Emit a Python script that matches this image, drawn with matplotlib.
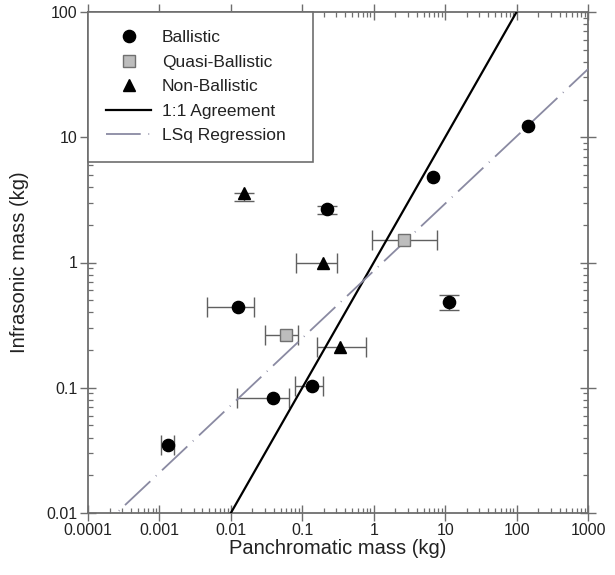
import numpy as np
import matplotlib
matplotlib.use("Agg")
import matplotlib.pyplot as plt
from matplotlib.lines import Line2D
from matplotlib.ticker import FixedLocator, FuncFormatter, LogLocator, NullFormatter

plt.rcParams['font.family'] = ['Liberation Sans', 'DejaVu Sans']
plt.rcParams['lines.scale_dashes'] = False

# ---- data ----
ball_x = [0.0013, 0.0126, 0.039, 0.137, 0.222, 6.8, 11.3, 145]
ball_y = [0.035, 0.44, 0.083, 0.104, 2.65, 4.8, 0.48, 12.2]
ball_xlo = [0.00105, 0.0046, 0.0122, 0.079, 0.222, 6.8, 11.3, 145]
ball_xhi = [0.0016, 0.021, 0.065, 0.195, 0.222, 6.8, 11.3, 145]
ball_ylo = [0.035, 0.44, 0.083, 0.104, 2.45, 4.8, 0.42, 12.2]
ball_yhi = [0.035, 0.44, 0.083, 0.104, 2.8, 4.8, 0.55, 12.2]

quasi_x = [0.059, 2.66]
quasi_y = [0.265, 1.5]
quasi_xlo = [0.030, 0.95]
quasi_xhi = [0.087, 7.7]

non_x = [0.0153, 0.195, 0.337]
non_y = [3.56, 1.0, 0.213]
non_xlo = [0.0153, 0.082, 0.161]
non_xhi = [0.0153, 0.306, 0.78]
non_ylo = [3.1, 1.0, 0.213]
non_yhi = [3.56, 1.0, 0.213]

reg_slope = 0.537
reg_log_intercept = -0.067

x_ticks = [0.0001, 0.001, 0.01, 0.1, 1, 10, 100, 1000]
y_ticks = [0.01, 0.1, 1, 10, 100]

fig = plt.figure(figsize=(6.15, 5.75), dpi=100)
ax = fig.add_axes([88/615, 1-513/575, 500/615, 501/575])
ax.set_xscale('log')
ax.set_yscale('log')

ecol = '#606060'
ekw = dict(fmt='none', ecolor=ecol, elinewidth=1.0, capsize=7, capthick=1.0, zorder=2)


def draw_err(x, y, xlo, xhi, ylo=None, yhi=None):
    x = np.array(x, float); y = np.array(y, float)
    xlo = np.array(xlo, float); xhi = np.array(xhi, float)
    mx = xhi > xlo
    if mx.any():
        ax.errorbar(x[mx], y[mx], xerr=np.vstack([x[mx] - xlo[mx], xhi[mx] - x[mx]]), **ekw)
    if ylo is not None:
        ylo = np.array(ylo, float); yhi = np.array(yhi, float)
        my = yhi > ylo
        if my.any():
            ax.errorbar(x[my], y[my], yerr=np.vstack([y[my] - ylo[my], yhi[my] - y[my]]), **ekw)


draw_err(ball_x, ball_y, ball_xlo, ball_xhi, ball_ylo, ball_yhi)
draw_err(quasi_x, quasi_y, quasi_xlo, quasi_xhi)
draw_err(non_x, non_y, non_xlo, non_xhi, non_ylo, non_yhi)

reg_col = '#8a8aa2'
reg_dash = (25, 5.5, 0.6, 5.5)
xx = np.logspace(-4, 3, 200)
ax.plot(xx, xx, color='black', lw=1.6, zorder=3)
ax.plot(xx, 10**(reg_log_intercept) * xx**reg_slope, color=reg_col, lw=1.3,
        dashes=reg_dash, zorder=3)

ax.plot(ball_x, ball_y, 'o', color='black', ms=8.8, zorder=4)
ax.plot(quasi_x, quasi_y, 's', mfc='#bdbdbd', mec='#707070', mew=1, ms=8, zorder=4)
ax.plot(non_x, non_y, '^', color='black', ms=8.8, zorder=4)

ax.set_xlim(1e-4, 1e3)
ax.set_ylim(1e-2, 1e2)

ax.xaxis.set_major_locator(FixedLocator(x_ticks))
ax.yaxis.set_major_locator(FixedLocator(y_ticks))
fmt = FuncFormatter(lambda v, p: '%g' % v)
ax.xaxis.set_major_formatter(fmt)
ax.yaxis.set_major_formatter(fmt)
ax.xaxis.set_minor_locator(LogLocator(base=10, subs=np.arange(2, 10), numticks=20))
ax.yaxis.set_minor_locator(LogLocator(base=10, subs=np.arange(2, 10), numticks=20))
ax.xaxis.set_minor_formatter(NullFormatter())
ax.yaxis.set_minor_formatter(NullFormatter())

scol = '#6e6e6e'
for s in ax.spines.values():
    s.set_color(scol)
    s.set_linewidth(1.3)
ax.tick_params(which='major', direction='inout', length=11, width=1, color=scol,
               labelsize=11.5, labelcolor='#222222', top=True, right=True, pad=2)
ax.tick_params(which='minor', direction='in', length=3.5, width=0.9, color=scol,
               top=True, right=True)

ax.set_xlabel('Panchromatic mass (kg)', fontsize=14.5, color='#222222')
ax.set_ylabel('Infrasonic mass (kg)', fontsize=14.5, color='#222222')
ax.xaxis.set_label_coords(0.5, -0.052)
ax.yaxis.set_label_coords(-0.118, 0.5)

handles = [
    Line2D([], [], ls='none', marker='o', color='black', ms=8.8),
    Line2D([], [], ls='none', marker='s', mfc='#bdbdbd', mec='#707070', ms=8),
    Line2D([], [], ls='none', marker='^', color='black', ms=8.8),
    Line2D([], [], color='black', lw=1.6),
    Line2D([], [], color=reg_col, lw=1.3, dashes=reg_dash),
]
labels = ['Ballistic', 'Quasi-Ballistic', 'Non-Ballistic', '1:1 Agreement', 'LSq Regression']
leg_w = (313 - 88) / 500
leg_h = (162 - 13) / 501
leg = ax.legend(handles, labels, loc='upper left', bbox_to_anchor=(0, 1 - leg_h, leg_w, leg_h),
                mode='expand', borderaxespad=0, fancybox=False, framealpha=1,
                edgecolor=scol, fontsize=12.5, handlelength=2.6, handletextpad=0.6,
                labelspacing=0.54, borderpad=1.05)
leg.get_frame().set_linewidth(1.2)
for t in leg.get_texts():
    t.set_color('#222222')

fig.savefig('out.png', dpi=100)
